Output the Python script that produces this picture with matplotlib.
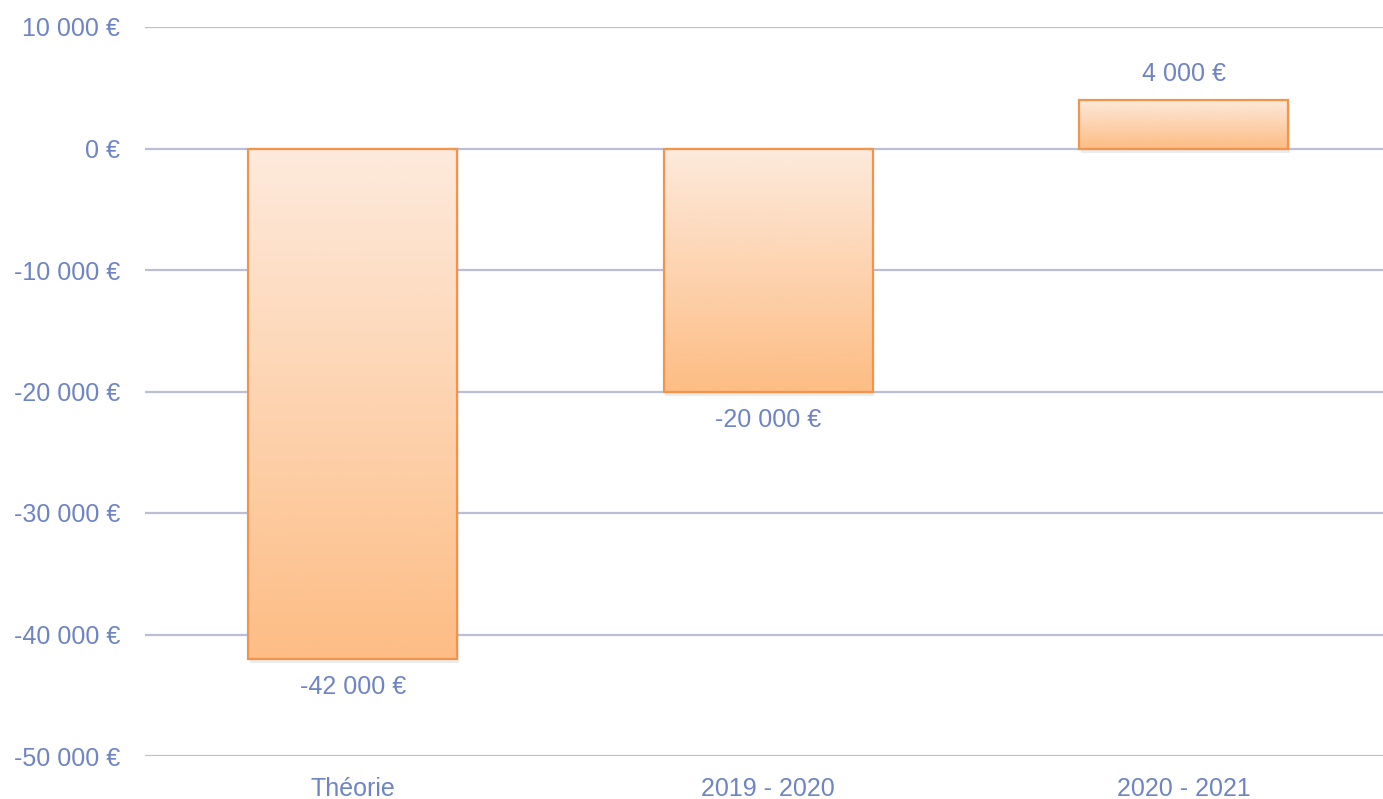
import numpy as np
import matplotlib.pyplot as plt
from matplotlib.colors import LinearSegmentedColormap

plt.rcParams['font.family'] = ['Liberation Sans', 'DejaVu Sans']

categories = ["Théorie", "2019 - 2020", "2020 - 2021"]
values = [-42000, -20000, 4000]
y_ticks = [10000, 0, -10000, -20000, -30000, -40000, -50000]

text_color = "#6E84C4"
grid_color = "#BABED6"
edge_color = "#F2944C"
grad = LinearSegmentedColormap.from_list("grad", ["#FDEADC", "#FDBD85"])


def euro(v):
    s = "{:,.0f}".format(abs(v)).replace(",", " ")
    return ("-" if v < 0 else "") + s + " €"


fig = plt.figure(figsize=(13.83, 7.99), dpi=100)
ax = fig.add_axes([145 / 1383, 1 - 756 / 799, 1 - 145 / 1383, (756 - 27) / 799])

ax.set_yticks(y_ticks)
ax.set_yticklabels([euro(v) for v in y_ticks])
ax.set_xticks(range(len(categories)))
ax.set_xticklabels(categories)
ax.tick_params(length=0, labelsize=18, labelcolor=text_color)
ax.tick_params(axis="y", pad=18)
ax.tick_params(axis="x", pad=15)
for s in ax.spines.values():
    s.set_visible(False)
ax.grid(axis="y", color=grid_color, linewidth=1.6)
ax.set_axisbelow(True)

width = 0.503
bars = ax.bar(range(len(categories)), values, width=width, color="none",
              edgecolor=edge_color, linewidth=1.6, zorder=4)

gradient = np.linspace(0, 1, 256).reshape(-1, 1)
for i, (b, v) in enumerate(zip(bars, values)):
    x0 = b.get_x()
    top, bottom = max(v, 0), min(v, 0)
    # soft shadow
    ax.bar(i + 0.004, v - (350 if v < 0 else 0), width=width, bottom=(-350 if v > 0 else 0),
           color="#808080", alpha=0.15, linewidth=0, zorder=2)
    ax.imshow(gradient, cmap=grad, aspect="auto",
              extent=[x0, x0 + width, bottom, top], origin="upper", zorder=3)
    if v < 0:
        ax.text(i, v - 1350, euro(v), ha="center", va="top", fontsize=18, color=text_color)
    else:
        ax.text(i, v + 1150, euro(v), ha="center", va="bottom", fontsize=18, color=text_color)

ax.set_xlim(-0.5, 2.48)
ax.set_ylim(-50000, 10000)

fig.savefig("out.png", dpi=100)
